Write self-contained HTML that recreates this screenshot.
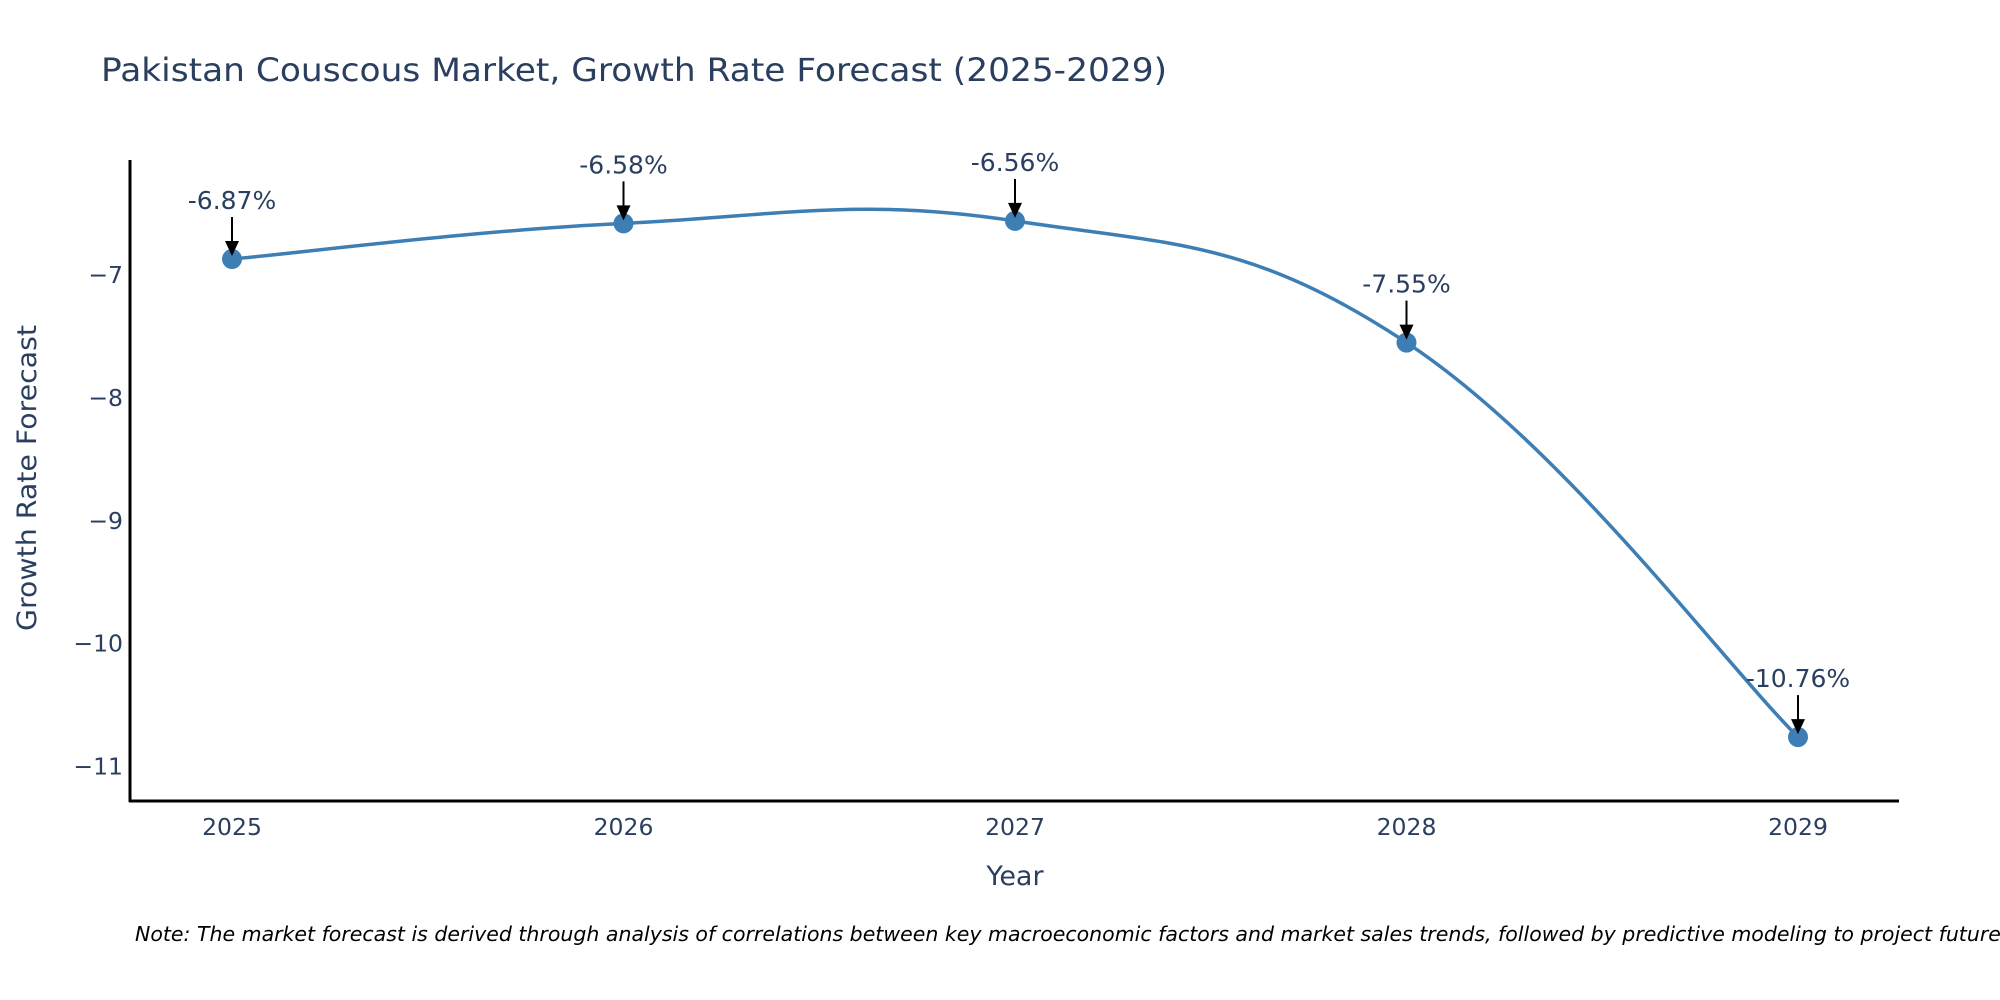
<!DOCTYPE html>
<html><head><meta charset="utf-8"><style>
html,body{margin:0;padding:0;background:#fff;}
svg{display:block;font-family:"DejaVu Sans","Liberation Sans",sans-serif;}
</style></head><body>
<svg id="chart" width="2000" height="1000" viewBox="0 0 2000 1000" xmlns="http://www.w3.org/2000/svg">
<rect width="2000" height="1000" fill="#fff"/>
<text x="101" y="81" font-size="32" fill="#2a3f5f" textLength="1066" lengthAdjust="spacingAndGlyphs">Pakistan Couscous Market, Growth Rate Forecast (2025-2029)</text>
<g id="grid"></g>
<g id="series"></g>
<g id="annots"></g>
<line x1="130" y1="160" x2="130" y2="802" stroke="#000" stroke-width="3"/>
<line x1="129" y1="801" x2="1899" y2="801" stroke="#000" stroke-width="3"/>
<g id="xticks"></g>
<g id="yticks"></g>
<text x="1015" y="885" font-size="27" fill="#2a3f5f" text-anchor="middle">Year</text>
<text transform="translate(36,478) rotate(-90)" font-size="27" fill="#2a3f5f" text-anchor="middle" textLength="306" lengthAdjust="spacingAndGlyphs">Growth Rate Forecast</text>
<text x="135" y="941" font-size="20.5" font-style="italic" fill="#000">Note: The market forecast is derived through analysis of correlations between key macroeconomic factors and market sales trends, followed by predictive modeling to project future sales.</text>
</svg>
<script>
const years = [2025, 2026, 2027, 2028, 2029];
const values = [-6.87, -6.58, -6.56, -7.55, -10.76];
const labels = ["-6.87%", "-6.58%", "-6.56%", "-7.55%", "-10.76%"];
const yTicks = [-7, -8, -9, -10, -11];
const yTickLabels = ["\u22127", "\u22128", "\u22129", "\u221210", "\u221211"];

const NS = "http://www.w3.org/2000/svg";
function xScale(v){ return 232 + (v - 2025) * 391.5; }
function yScale(v){ return 275 + (-7 - v) * 122.9; }
function mk(tag, attrs, parent){ const e = document.createElementNS(NS, tag); for (const k in attrs) e.setAttribute(k, attrs[k]); parent.appendChild(e); return e; }

const xt = document.getElementById('xticks');
years.forEach(y => {
  const t = mk('text', {x: xScale(y), y: 835, 'font-size': 23.5, fill: '#2a3f5f', 'text-anchor': 'middle'}, xt);
  
  
  t.textContent = y;
});
const yt = document.getElementById('yticks');
yTicks.forEach((v, i) => {
  const t = mk('text', {x: 123, y: yScale(v) + 8, 'font-size': 23.5, fill: '#2a3f5f', 'text-anchor': 'end'}, yt);
  
  
  t.textContent = yTickLabels[i];
});

const pts = years.map((y, i) => [xScale(y), yScale(values[i])]);
let d = 'M' + pts[0][0] + ',' + pts[0][1];
const k = 0.2;
for (let i = 0; i < pts.length - 1; i++) {
  const p0 = pts[Math.max(0, i - 1)], p1 = pts[i], p2 = pts[i + 1], p3 = pts[Math.min(pts.length - 1, i + 2)];
  const c1x = p1[0] + (p2[0] - p0[0]) * k, c1y = p1[1] + (p2[1] - p0[1]) * k;
  const c2x = p2[0] - (p3[0] - p1[0]) * k, c2y = p2[1] - (p3[1] - p1[1]) * k;
  d += ' C' + c1x + ',' + c1y + ' ' + c2x + ',' + c2y + ' ' + p2[0] + ',' + p2[1];
}
const s = document.getElementById('series');
const line = mk('path', {d: d, fill: 'none', stroke: '#3d7fb5', 'stroke-width': 3.5}, s);


pts.forEach(p => {
  const c = mk('circle', {cx: p[0], cy: p[1], r: 10, fill: '#3d7fb5'}, s);
  
  
});

const a = document.getElementById('annots');
pts.forEach((p, i) => {
  const l = mk('line', {x1: p[0], y1: p[1] - 42, x2: p[0], y2: p[1] - 16, stroke: '#000', 'stroke-width': 2}, a);
  
  
  const h = mk('path', {d: 'M' + (p[0] - 7) + ',' + (p[1] - 18) + ' L' + (p[0] + 7) + ',' + (p[1] - 18) + ' L' + p[0] + ',' + (p[1] - 3) + ' Z', fill: '#000'}, a);
  
  
  const t = mk('text', {x: p[0], y: p[1] - 50, 'font-size': 25, fill: '#2a3f5f', 'text-anchor': 'middle'}, a);
  
  
  t.textContent = labels[i];
});
</script>
</body></html>
